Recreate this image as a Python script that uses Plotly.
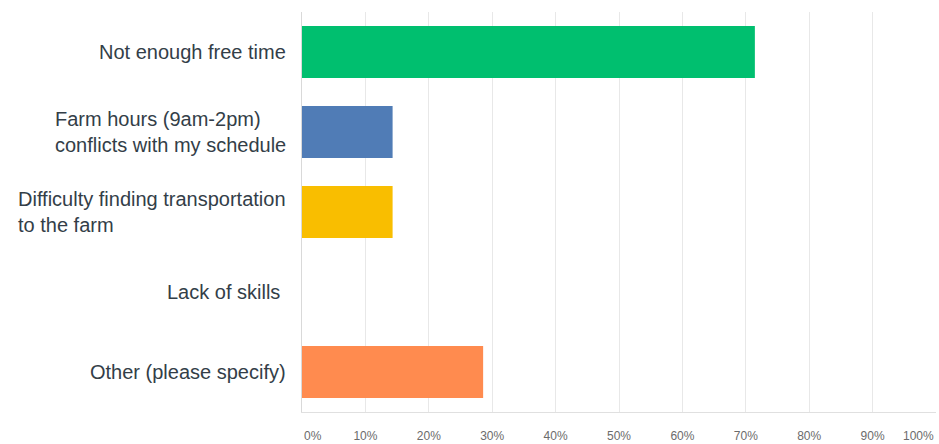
import plotly.graph_objects as go

# Survey responses: barriers to volunteering at the farm
categories = [
    "Not enough free time",
    "Farm hours (9am-2pm)<br>conflicts with my schedule",
    "Difficulty finding transportation<br>to the farm",
    "Lack of skills ",
    "Other (please specify)",
]
percent = [71.43, 14.29, 14.29, 0.0, 28.57]
bar_colors = ["#00BF6F", "#507CB6", "#F9BE00", "#9D5CA0", "#FF8B4F"]

tick_values = [10, 20, 30, 40, 50, 60, 70, 80, 90]
tick_labels = [f"{v}%" for v in tick_values]

fig = go.Figure(
    go.Bar(
        y=categories,
        x=percent,
        orientation="h",
        marker=dict(color=bar_colors, line=dict(width=0)),
        hoverinfo="x+y",
    )
)

fig.update_layout(
    width=939,
    height=444,
    margin=dict(l=302, r=3, t=12, b=32),
    paper_bgcolor="white",
    plot_bgcolor="white",
    bargap=0.35,
    showlegend=False,
    font=dict(family="Liberation Sans, Arial, sans-serif", color="#333e48"),
)

fig.update_xaxes(
    range=[0, 100],
    tickvals=tick_values,
    ticktext=tick_labels,
    showgrid=True,
    gridcolor="#e8e8e8",
    gridwidth=1,
    zeroline=False,
    showline=True,
    linecolor="#e0e0e0",
    ticks="",
    ticklabelstandoff=13,
    tickfont=dict(size=12, color="#6b6b6b"),
    automargin=False,
    fixedrange=True,
)

fig.update_yaxes(
    categoryorder="array",
    categoryarray=categories[::-1],
    showline=True,
    linecolor="#d9d9d9",
    showgrid=False,
    ticks="",
    showticklabels=False,
    automargin=False,
    fixedrange=True,
)

# Category labels: right edge at the axis, lines left-aligned within each block
for cat in categories:
    fig.add_annotation(
        x=0, xref="x", y=cat, yref="y",
        text=cat, showarrow=False,
        xanchor="right", yanchor="middle", align="left", xshift=-14,
        font=dict(size=20, color="#333e48"),
    )

# End labels kept inside the figure edges
for val, anchor in [(0, "left"), (100, "right")]:
    fig.add_annotation(
        x=val, xref="x", y=0, yref="paper",
        text=f"{val}%", showarrow=False,
        xanchor=anchor, yanchor="top", yshift=-15,
        font=dict(size=12, color="#6b6b6b"),
    )

fig.write_html("out.html")
